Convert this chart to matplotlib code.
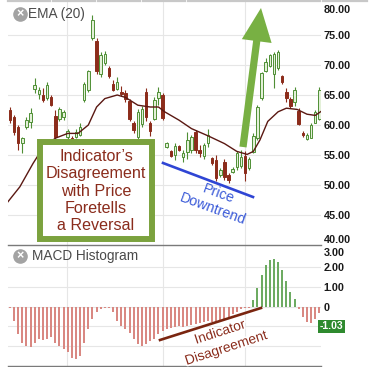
import numpy as np
import matplotlib.pyplot as plt
import matplotlib.patheffects as pe
from matplotlib.patches import Rectangle, FancyArrowPatch, ArrowStyle
from matplotlib.lines import Line2D
from matplotlib.transforms import blended_transform_factory

plt.rcParams['font.family'] = ['Liberation Sans', 'DejaVu Sans']

# daily candles
opens = [62.5, 61.4, 59.7, 57.0, 59.7, 60.5, 66.0, 65.2, 65.0, 64.5,
         64.6, 61.5, 61.0, 61.4, 58.0, 57.8, 58.0, 58.3, 64.2, 65.8,
         74.5, 74.0, 68.5, 70.3, 69.5, 66.8, 66.0, 65.5, 65.3, 64.0,
         60.3, 58.0, 60.2, 65.5, 60.3, 61.0, 64.5, 65.0, 56.4, 55.6,
         55.0, 56.5, 54.6, 55.5, 55.8, 58.8, 55.8, 54.8, 57.0, 54.5,
         54.2, 51.6, 53.8, 51.6, 52.1, 53.0, 53.2, 54.8, 52.8, 55.5,
         57.8, 64.5, 69.0, 69.9, 68.5, 69.5, 68.1, 65.5, 64.3, 63.8,
         62.3, 58.6, 57.6, 57.9, 60.3, 61.0]
highs = [63.05, 61.7, 60.0, 58.0, 61.4, 62.8, 67.8, 66.4, 66.1, 67.2,
         65.0, 62.5, 63.0, 62.5, 59.4, 58.2, 59.4, 60.3, 67.2, 69.2,
         78.3, 74.5, 72.2, 72.3, 69.8, 67.5, 68.0, 66.5, 65.8, 64.3,
         60.6, 62.6, 63.1, 66.1, 60.6, 64.6, 66.4, 65.3, 57.2, 55.8,
         57.0, 56.7, 55.8, 58.9, 58.3, 59.2, 56.7, 57.0, 59.4, 54.7,
         55.0, 52.8, 54.4, 52.0, 53.0, 55.6, 55.8, 55.6, 54.7, 58.6,
         63.3, 68.9, 71.1, 71.9, 72.2, 72.5, 68.3, 66.1, 64.7, 66.4,
         62.8, 59.0, 58.6, 60.3, 62.5, 66.4]
lows = [60.3, 58.3, 55.8, 55.3, 59.4, 59.5, 65.3, 64.4, 63.9, 64.2,
        63.1, 57.4, 60.6, 60.8, 57.5, 57.0, 57.8, 58.1, 63.9, 65.5,
        74.2, 68.5, 68.0, 70.0, 67.8, 65.6, 65.8, 64.8, 63.9, 60.7,
        58.7, 57.7, 59.7, 60.6, 58.1, 60.8, 63.3, 60.8, 56.2, 54.7,
        54.2, 55.6, 53.9, 54.4, 55.4, 55.3, 54.7, 54.4, 56.4, 53.3,
        50.6, 51.4, 50.8, 50.3, 52.0, 52.5, 52.8, 50.6, 52.5, 55.3,
        57.5, 64.2, 68.9, 69.7, 66.1, 69.2, 66.9, 63.9, 62.8, 63.1,
        60.0, 58.0, 57.5, 57.8, 60.3, 60.8]
closes = [60.8, 58.9, 57.0, 57.8, 60.8, 62.0, 66.6, 65.9, 64.2, 66.7,
          63.4, 58.0, 62.7, 62.2, 59.0, 57.5, 58.9, 59.7, 66.9, 69.0,
          77.5, 69.0, 71.7, 71.9, 68.2, 65.8, 67.2, 65.2, 64.3, 61.0,
          59.1, 62.2, 62.7, 61.4, 59.0, 64.2, 65.5, 61.2, 57.0, 54.9,
          56.5, 55.9, 55.3, 57.5, 58.0, 55.8, 55.4, 56.6, 58.4, 53.6,
          51.2, 52.5, 51.3, 50.8, 52.7, 55.3, 54.7, 52.0, 54.4, 58.2,
          63.0, 68.6, 70.5, 71.6, 71.8, 72.2, 67.2, 64.5, 63.2, 65.8,
          60.2, 58.3, 58.3, 60.0, 62.2, 65.8]

# EMA(20) line, read at points along the curve
ema_idx = [-0.5, 2.4, 5.6, 8.0, 11.0, 14.0, 16.5, 19.0, 21.0, 23.0, 26.0,
           28.0, 31.0, 34.0, 36.0, 37.5, 41.0, 44.0, 48.0, 52.0, 55.0,
           57.5, 59.0, 60.6, 62.5, 65.0, 67.0, 69.6, 72.0, 74.0, 75.5]
ema_val = [47.2, 49.7, 53.6, 56.2, 57.8, 58.6, 58.6, 60.0, 63.0, 64.4, 65.0,
           64.6, 63.3, 63.0, 63.0, 62.2, 60.8, 59.4, 58.2, 56.9, 55.6,
           55.1, 55.6, 57.5, 60.6, 62.2, 62.8, 62.6, 61.8, 61.6, 62.3]

macd_hist = [-0.05, -0.72, -1.4, -1.83, -1.97, -2.03, -1.83, -1.66, -1.7, -1.66,
             -1.52, -1.83, -2.0, -2.14, -2.3, -2.6, -2.65, -2.5, -1.83, -1.15,
             -0.63, -0.26, -0.12, -0.08, -0.08, -0.26, -0.72, -0.97, -1.15, -1.32,
             -1.66, -1.9, -1.97, -1.9, -1.74, -1.62, -1.4, -1.23, -1.15, -1.1,
             -1.05, -1.0, -1.05, -1.0, -0.95, -0.9, -0.85, -0.8, -0.75, -0.8,
             -0.75, -0.7, -0.6, -0.5, -0.35, -0.25, -0.1, -0.05, -0.05, 0.35,
             0.93, 1.6, 2.1, 2.35, 2.4, 2.25, 1.85, 1.3, 0.75, 0.37,
             -0.1, -0.5, -0.8, -0.85, -0.65, -0.3]

price_ticks = [40, 45, 50, 55, 60, 65, 70, 75, 80]
macd_ticks = [0, 1, 2, 3]
macd_labels = ['0', '1.00', '2.00', '3.00']
macd_last = '-1.03'
month_breaks = [13.8, 37.1, 57.0]

W, H = 375, 367
def fx(p):
    return p / W
def fy(p):
    return 1 - p / H

GREEN = '#4f8f35'
GREEN_FILL = '#e3f0d8'
RED = '#8c2c1b'
GRID = '#e6e6e6'

fig = plt.figure(figsize=(W / 100, H / 100), dpi=100)
ax = fig.add_axes([fx(7.9), fy(245), 313.5 / W, 243 / H])
ax2 = fig.add_axes([fx(7.9), fy(366), 313.5 / W, 120 / H])

o = np.array(opens); h = np.array(highs); l = np.array(lows); c = np.array(closes)
k = np.arange(len(c))
up = c >= o
bot = np.minimum(o, c)
bh = np.maximum(np.abs(c - o), 0.2)

for v in price_ticks[1:-1]:
    ax.axhline(v, color=GRID, lw=0.8, zorder=0)
for m in month_breaks:
    ax.axvline(m, color=GRID, lw=0.8, zorder=0)
    ax2.axvline(m, color=GRID, lw=0.8, zorder=0)

ax.vlines(k[up], l[up], h[up], color=GREEN, lw=0.8, zorder=2)
ax.vlines(k[~up], l[~up], h[~up], color=RED, lw=0.8, zorder=2)
ax.bar(k[up], bh[up], bottom=bot[up], width=0.62, facecolor=GREEN_FILL,
       edgecolor=GREEN, lw=0.7, zorder=3)
ax.bar(k[~up], bh[~up], bottom=bot[~up], width=0.62, facecolor=RED,
       edgecolor=RED, lw=0.7, zorder=3)
ax.plot(ema_idx, ema_val, color='#5a1812', lw=1.0, zorder=4)

ax.set_xlim(-0.5, 75.5)
ax.set_ylim(40, 80.5)
ax.set_xticks([])
ax.yaxis.tick_right()
ax.set_yticks(price_ticks)
ax.set_yticklabels([f'{v:.2f}' for v in price_ticks])
ax.tick_params(axis='y', length=0, pad=1.5, labelsize=7.8, labelcolor='#1a1a1a')
for t in ax.get_yticklabels():
    t.set_fontweight('bold')
ax.get_yticklabels()[0].set_va('bottom')
ax.get_yticklabels()[-1].set_va('top')
for s in ax.spines.values():
    s.set_visible(False)

# MACD histogram
mh = np.array(macd_hist)
cols = np.where(mh >= 0, '#6dab62', '#d98882')
for v in [-2, -1, 0, 1, 2]:
    ax2.axhline(v, color=GRID, lw=0.8, zorder=0)
ax2.bar(np.arange(len(mh)), mh, width=0.5, color=cols, zorder=2)
ax2.set_xlim(-0.5, 75.5)
ax2.set_ylim(-3.01, 3.08)
ax2.set_xticks([])
ax2.yaxis.tick_right()
ax2.set_yticks(macd_ticks)
ax2.set_yticklabels(macd_labels)
ax2.tick_params(axis='y', length=0, pad=1.5, labelsize=7.8, labelcolor='#1a1a1a')
for t in ax2.get_yticklabels():
    t.set_fontweight('bold')
ax2.get_yticklabels()[-1].set_va('top')
for s in ax2.spines.values():
    s.set_visible(False)
tr = blended_transform_factory(ax2.transAxes, ax2.transData)
ax2.text(0.995, -1, macd_last, transform=tr, ha='left', va='center', color='white',
         fontsize=7.5, fontweight='bold', clip_on=False,
         bbox=dict(facecolor='#2f8a2f', edgecolor='none', pad=1.3))

# frame lines
for yy in [244.5, 366]:
    fig.add_artist(Line2D([fx(8), fx(321)], [fy(yy), fy(yy)], color='#7a7a7a', lw=1.0))
for a, b in [(8, 50), (53, 95), (98, 140), (143, 185), (188, 230), (232, 275), (277, 320), (323, 367)]:
    fig.add_artist(Line2D([fx(a), fx(b)], [fy(0.8), fy(0.8)], color='#c8c8c8', lw=1.6))

# panel titles with close icons
for (cy, tx, label) in [(14, 28, 'EMA (20)'), (256, 32, 'MACD Histogram')]:
    fig.add_artist(Line2D([fx(20)], [fy(cy)], marker='o', markersize=9.5, color='#a3a3a3', lw=0))
    fig.text(fx(20), fy(cy + 0.3), '×', ha='center', va='center', color='white',
             fontsize=9, fontweight='bold')
    fig.text(fx(tx), fy(cy), label, ha='left', va='center', color='#4a4a4a', fontsize=9.8)

# green call-out box
fig.add_artist(Rectangle((fx(40), fy(239)), 112 / W, 97 / H, transform=fig.transFigure,
                         facecolor='white', edgecolor='#7ba23e', lw=4.3, zorder=5))
fig.text(fx(96), fy(191), 'Indicator’s\nDisagreement\nwith Price\nForetells\na Reversal',
         ha='center', va='center', fontsize=11.6, color='#8a2c1c', linespacing=1.17, zorder=6)

# price downtrend
fig.add_artist(Line2D([fx(163), fx(253)], [fy(163), fy(197)], color='#2f45d4', lw=1.9))
for txt, px, py in [('Price', 219, 194), ('Downtrend', 213, 209)]:
    fig.text(fx(px), fy(py), txt, ha='center', va='center', rotation=-20,
             rotation_mode='anchor', fontsize=10.3, color='#3a5ad8')

# reversal arrow
fig.add_artist(FancyArrowPatch((fx(243), fy(147)), (fx(261), fy(8)), transform=fig.transFigure,
                               arrowstyle=ArrowStyle.Simple(head_length=1.2, head_width=1.08, tail_width=0.26),
                               mutation_scale=20, color='#78b043', lw=0, shrinkA=0, shrinkB=0, zorder=5))

# indicator disagreement
fig.add_artist(Line2D([fx(160), fx(261)], [fy(340), fy(308)], color='#7a2510', lw=1.9, zorder=5))
halo = [pe.withStroke(linewidth=2.5, foreground='white')]
for txt, px, py in [('Indicator', 220, 332), ('Disagreement', 226, 348)]:
    fig.text(fx(px), fy(py), txt, ha='center', va='center', rotation=18,
             rotation_mode='anchor', fontsize=9.9, color='#8a2c1c', path_effects=halo, zorder=6)

fig.savefig('out.png', dpi=100)
